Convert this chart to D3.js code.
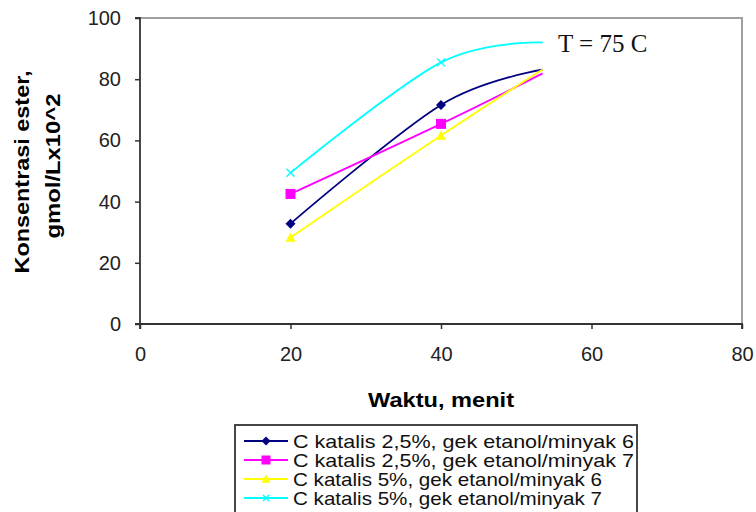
<!DOCTYPE html>
<html>
<head>
<meta charset="utf-8">
<script src="https://cdn.jsdelivr.net/npm/d3@7"></script>
<style>
  body { margin: 0; background: #fff; }
  svg { display: block; }
</style>
</head>
<body>
<svg id="chart" width="756" height="512"></svg>
<script>
// waktu (menit) for each measured point; the last point has no marker
const times = [20, 40, 53.5];
const markedCount = 2;

const seriesNames = [
    "C katalis 2,5%, gek etanol/minyak 6",
    "C katalis 2,5%, gek etanol/minyak 7",
    "C katalis 5%, gek etanol/minyak 6",
    "C katalis 5%, gek etanol/minyak 7"
];
const katalis25gek6 = [32.8, 71.6, 83.1];
const katalis25gek7 = [42.5, 65.4, 81.9];
const katalis5gek6 = [28.3, 61.6, 83.2];
const katalis5gek7 = [49.4, 85.5, 92.0];

const seriesColors = ["#000080", "#ff00ff", "#ffff00", "#00ffff"];
const seriesMarkers = ["diamond", "square", "triangle", "cross"];

const xTicks = [0, 20, 40, 60, 80];
const yTicks = [0, 20, 40, 60, 80, 100];

const xTitle = "Waktu, menit";
const yTitle = ["Konsentrasi ester,", "gmol/Lx10^2"];
const note = "T = 75 C";

const svg = d3.select("#chart");
const plot = {left: 140, right: 742, top: 18, bottom: 324};

const x = d3.scaleLinear().domain([0, 80]).range([plot.left, plot.right]);
const y = d3.scaleLinear().domain([0, 100]).range([plot.bottom, plot.top]);

// marker shapes like the excel ones
function markerPath(shape, r) {
    const p = d3.path();
    if (shape === "diamond") {
        p.moveTo(0, -r); p.lineTo(r, 0); p.lineTo(0, r); p.lineTo(-r, 0); p.closePath();
    } else if (shape === "square") {
        p.rect(-r, -r, 2 * r, 2 * r);
    } else if (shape === "triangle") {
        p.moveTo(0, -r); p.lineTo(r, r * 0.85); p.lineTo(-r, r * 0.85); p.closePath();
    } else {
        p.moveTo(-r, -r); p.lineTo(r, r); p.moveTo(r, -r); p.lineTo(-r, r);
    }
    return p.toString();
}

function drawMarker(g, shape, color, r) {
    const m = g.append("path").attr("d", markerPath(shape, r));
    if (shape === "cross") {
        m.attr("fill", "none").attr("stroke", color).attr("stroke-width", 1.4);
    } else {
        m.attr("fill", color);
    }
    return m;
}

// plot frame: grey top/right border
svg.append("path")
    .attr("d", `M${plot.left},${plot.top}H${plot.right}V${plot.bottom}`)
    .attr("fill", "none")
    .attr("stroke", "#a0a0a0")
    .attr("stroke-width", 2);

// axes
const xAxis = svg.append("g")
    .attr("transform", `translate(0,${plot.bottom})`)
    .call(d3.axisBottom(x).tickValues(xTicks).tickSize(5).tickPadding(18).tickSizeOuter(5));
const yAxis = svg.append("g")
    .attr("transform", `translate(${plot.left},0)`)
    .call(d3.axisLeft(y).tickValues(yTicks).tickSize(5).tickPadding(14).tickSizeOuter(5));

[xAxis, yAxis].forEach(ax => {
    ax.select(".domain").attr("stroke", "#333").attr("stroke-width", 1.8);
    ax.selectAll(".tick line").attr("stroke", "#333").attr("stroke-width", 1.5);
    ax.selectAll(".tick text")
        .attr("fill", "#222")
        .style("font-family", "'Liberation Sans', Arial, sans-serif")
        .style("font-size", "20px");
});
// left axis runs down past the x axis like the reference
yAxis.select(".domain").attr("d", `M-5,${plot.top}H0V${plot.bottom + 5}`);
xAxis.select(".domain").attr("d", `M${plot.left - 5},0H${plot.right}V5`);

// series lines
const allSeries = [katalis25gek6, katalis25gek7, katalis5gek6, katalis5gek7];
const line = d3.line()
    .x((d, i) => x(times[i]))
    .y(d => y(d))
    .curve(d3.curveCardinal.tension(0));

allSeries.forEach((values, s) => {
    svg.append("path")
        .datum(values)
        .attr("d", line)
        .attr("fill", "none")
        .attr("stroke", seriesColors[s])
        .attr("stroke-width", 1.8);

    values.slice(0, markedCount).forEach((v, i) => {
        const g = svg.append("g").attr("transform", `translate(${x(times[i])},${y(v)})`);
        drawMarker(g, seriesMarkers[s], seriesColors[s], seriesMarkers[s] === "cross" ? 4 : 5);
    });
});

// annotation
svg.append("text")
    .attr("x", 558)
    .attr("y", 52)
    .style("font-family", "'Liberation Serif', 'Times New Roman', serif")
    .style("font-size", "25px")
    .attr("fill", "#111")
    .text(note);

// axis titles
svg.append("text")
    .attr("x", 441)
    .attr("y", 407)
    .attr("text-anchor", "middle")
    .attr("textLength", 146)
    .attr("lengthAdjust", "spacingAndGlyphs")
    .style("font-family", "'Liberation Sans', Arial, sans-serif")
    .style("font-size", "20px")
    .style("font-weight", "bold")
    .text(xTitle);

const yTitleLayout = [{base: 29, center: 172, len: 203}, {base: 60, center: 166, len: 145}];
yTitle.forEach((t, i) => {
    const l = yTitleLayout[i];
    svg.append("text")
        .attr("transform", `translate(${l.base},${l.center}) rotate(-90)`)
        .attr("text-anchor", "middle")
        .attr("textLength", l.len)
        .attr("lengthAdjust", "spacingAndGlyphs")
        .style("font-family", "'Liberation Sans', Arial, sans-serif")
        .style("font-size", "20px")
        .style("font-weight", "bold")
        .text(t);
});

// legend, cut off at the bottom of the picture
const legend = svg.append("g").attr("transform", "translate(235,425)");
legend.append("rect")
    .attr("width", 402)
    .attr("height", 100)
    .attr("fill", "#fff")
    .attr("stroke", "#333")
    .attr("stroke-width", 1.8);

seriesNames.forEach((name, s) => {
    const row = legend.append("g").attr("transform", `translate(0,${16 + s * 19})`);
    row.append("line")
        .attr("x1", 9).attr("x2", 53)
        .attr("stroke", seriesColors[s])
        .attr("stroke-width", 2);
    const m = row.append("g").attr("transform", "translate(31,0)");
    drawMarker(m, seriesMarkers[s], seriesColors[s], seriesMarkers[s] === "cross" ? 3 : 4.5);
    row.append("text")
        .attr("x", 58)
        .attr("y", 6.5)
        .attr("textLength", name.length > 34 ? 341 : 309)
        .attr("lengthAdjust", "spacingAndGlyphs")
        .style("font-family", "'Liberation Sans', Arial, sans-serif")
        .style("font-size", "18.5px")
        .attr("fill", "#111")
        .text(name);
});
</script>
</body>
</html>
